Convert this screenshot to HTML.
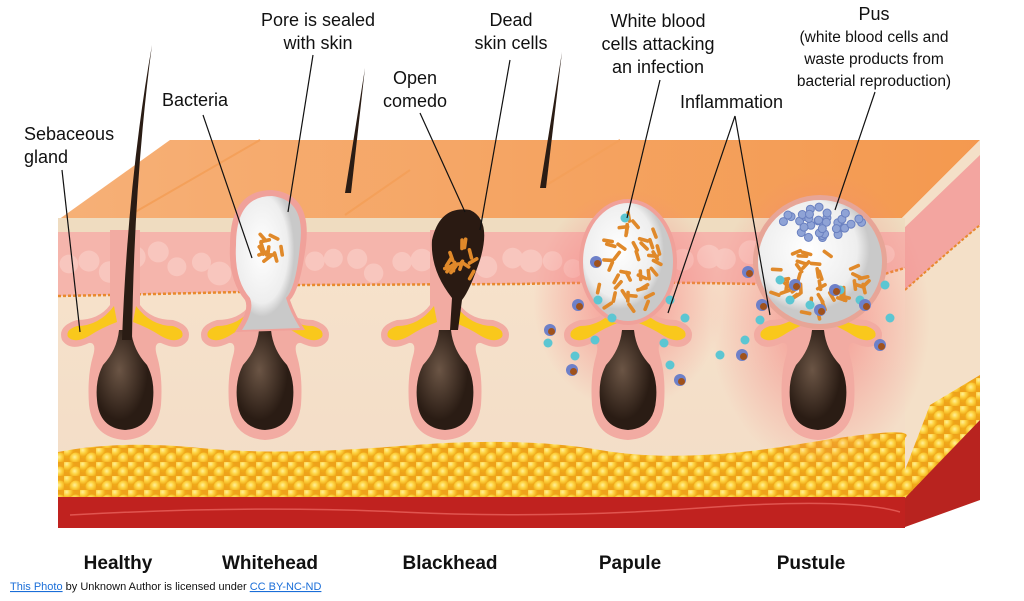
<!DOCTYPE html>
<html><head><meta charset="utf-8"><style>
html,body{margin:0;padding:0;background:#fff;}
svg{display:block}
text{font-family:"Liberation Sans",sans-serif;fill:#111}
</style></head><body>
<svg id="s" width="1024" height="601" viewBox="0 0 1024 601" xmlns="http://www.w3.org/2000/svg">
<defs>
<linearGradient id="top" x1="0" y1="0" x2="1" y2="0"><stop offset="0" stop-color="#f6b077"/><stop offset="1" stop-color="#f4994f"/></linearGradient>
<linearGradient id="derm" x1="0" y1="0" x2="0" y2="1"><stop offset="0" stop-color="#f7e3cc"/><stop offset="1" stop-color="#f2dcc6"/></linearGradient>
<radialGradient id="glow"><stop offset="0" stop-color="#f58080" stop-opacity=".8"/><stop offset="1" stop-color="#f58080" stop-opacity="0"/></radialGradient>
<radialGradient id="bulb" cx=".4" cy=".4"><stop offset="0" stop-color="#6b5545"/><stop offset="1" stop-color="#2a1c14"/></radialGradient>
<radialGradient id="wh" cx=".4" cy=".4"><stop offset="0" stop-color="#fff"/><stop offset=".8" stop-color="#eeeeee"/><stop offset="1" stop-color="#c9c9c9"/></radialGradient>
<radialGradient id="fc" cx=".4" cy=".35"><stop offset="0" stop-color="#fff09a"/><stop offset=".5" stop-color="#fdd240"/><stop offset="1" stop-color="#f0a818"/></radialGradient>
<pattern id="fat" width="16" height="14" patternUnits="userSpaceOnUse">
<rect width="16" height="14" fill="#eea21a"/>
<circle cx="4" cy="4" r="6.5" fill="url(#fc)"/><circle cx="12" cy="11" r="6.5" fill="url(#fc)"/>
</pattern>
</defs>
<polygon points="58,220 170,140 980,140 900,220" fill="url(#top)"/>
<line x1="130" y1="215" x2="260" y2="140" stroke="#f4a05a" stroke-width="2"/>
<line x1="345" y1="215" x2="410" y2="170" stroke="#f4a05a" stroke-width="2"/>
<line x1="545" y1="186" x2="620" y2="140" stroke="#f4a05a" stroke-width="2"/>
<polygon points="900,220 980,140 980,500 905,527" fill="#f4e0c8"/>
<path d="M900,232 L980,155 L980,225 Q950,250 905,290 Z" fill="#f3a5a0"/>
<path d="M905,290 Q950,250 980,225" stroke="#e8892d" stroke-width="2" fill="none" stroke-dasharray="3,2"/>
<path d="M905,470 L930,405 L980,375 L980,425 L905,500 Z" fill="url(#fat)"/>
<polygon points="905,498 980,420 980,500 905,527" fill="#b8231f"/>
<rect x="58" y="218" width="847" height="310" fill="url(#derm)"/>
<rect x="58" y="218" width="847" height="14" fill="#efdcc0"/>
<path d="M58,232 H905 V268 Q880,275 860,282 L820,285 L700,283 Q600,282 520,284 L300,285 Q250,285 240,292 L110,295 L58,296 Z" fill="#f5b5ac"/>
<path d="M58,296 L110,295 L240,292 Q250,285 300,285 L520,284 Q600,282 700,283 L820,285 L860,282 Q880,275 905,268" stroke="#e8892d" stroke-width="2.5" fill="none" stroke-dasharray="3,2"/>
<g id="cells" fill="#f9cbc3" opacity=".8"></g>
<path d="M58,452 Q120,440 200,448 T400,446 T600,450 T800,444 T905,438 V500 H58 Z" fill="url(#fat)"/>
<rect x="58" y="497" width="847" height="31" fill="#c0221f"/>
<path d="M70,515 Q250,505 400,512 T700,508 T900,512" stroke="#e05550" stroke-width="1.5" fill="none"/>
<ellipse cx="628" cy="300" rx="95" ry="110" fill="url(#glow)"/>
<ellipse cx="820" cy="320" rx="110" ry="150" fill="url(#glow)"/>
<g id="fol"></g>
<path d="M122,340 Q128,180 152,45 Q134,180 132,340 Z" fill="#2a1c14"/>
<path d="M345,193 L365,68 L351,193 Z" fill="#2a1c14"/>
<path d="M540,188 L562,52 L546,188 Z" fill="#2a1c14"/>
<path d="M230,245 Q230,190 272,190 Q312,194 306,245 Q300,290 290,300 Q295,315 305,330 L235,332 Q250,310 245,300 Q228,280 230,245 Z" fill="#f0a19a"/>
<path d="M236,245 Q236,196 272,196 Q306,200 300,245 Q296,288 286,298 Q290,312 300,328 L242,330 Q255,310 250,298 Q234,280 236,245 Z" fill="url(#wh)"/>
<path d="M432,240 Q440,205 470,210 Q492,220 480,260 Q470,290 462,300 L458,330 L450,330 L452,298 Q430,270 432,240 Z" fill="#2a1a12"/>
<ellipse cx="628" cy="262" rx="49" ry="63" fill="#f0a19a"/>
<ellipse cx="628" cy="262" rx="45" ry="59" fill="url(#wh)"/>
<circle cx="820" cy="262" r="67" fill="#e7a597"/>
<circle cx="820" cy="262" r="62" fill="url(#wh)"/>
<g id="bac"></g>
<g stroke="#111" stroke-width="1.2">
<line x1="62" y1="170" x2="80" y2="332"/>
<line x1="203" y1="115" x2="252" y2="258"/>
<line x1="313" y1="55" x2="288" y2="212"/>
<line x1="420" y1="113" x2="465" y2="212"/>
<line x1="510" y1="60" x2="480" y2="230"/>
<line x1="660" y1="80" x2="627" y2="218"/>
<line x1="735" y1="116" x2="668" y2="313"/>
<line x1="735" y1="116" x2="770" y2="315"/>
<line x1="875" y1="92" x2="835" y2="210"/>
</g>
<g font-size="18">
<text x="24" y="140">Sebaceous</text><text x="24" y="163">gland</text>
<text x="162" y="106">Bacteria</text>
<text x="318" y="26" text-anchor="middle">Pore is sealed</text><text x="318" y="49" text-anchor="middle">with skin</text>
<text x="415" y="84" text-anchor="middle">Open</text><text x="415" y="107" text-anchor="middle">comedo</text>
<text x="511" y="26" text-anchor="middle">Dead</text><text x="511" y="49" text-anchor="middle">skin cells</text>
<text x="658" y="27" text-anchor="middle">White blood</text><text x="658" y="50" text-anchor="middle">cells attacking</text><text x="658" y="73" text-anchor="middle">an infection</text>
<text x="874" y="20" text-anchor="middle">Pus</text>
<text x="680" y="108">Inflammation</text>
</g>
<g font-size="15.5" text-anchor="middle">
<text x="874" y="42">(white blood cells and</text><text x="874" y="64">waste products from</text><text x="874" y="86">bacterial reproduction)</text>
</g>
<g font-size="19" font-weight="bold" text-anchor="middle">
<text x="118" y="569">Healthy</text><text x="270" y="569">Whitehead</text><text x="450" y="569">Blackhead</text><text x="630" y="569">Papule</text><text x="811" y="569">Pustule</text>
</g>
<g font-size="11"><text x="10" y="590"><tspan fill="#1a6ed8" text-decoration="underline">This Photo</tspan> by Unknown Author is licensed under <tspan fill="#1a6ed8" text-decoration="underline">CC BY-NC-ND</tspan></text></g>
</svg>
<script>
var NS="http://www.w3.org/2000/svg";
function el(p,t,a){var e=document.createElementNS(NS,t);for(var k in a)e.setAttribute(k,a[k]);p.appendChild(e);return e;}
var seed=7;function r(){seed=(seed*9301+49297)%233280;return seed/233280;}
var cells=document.getElementById('cells');
for(var x=65;x<900;x+=22){el(cells,'circle',{cx:x+r()*8,cy:250+r()*25,r:9+r()*3});}
var fol=document.getElementById('fol');
[125,265,445,628,818].forEach(function(cx){
 var g=el(fol,'g',{transform:'translate('+cx+',0)'});
 el(g,'path',{d:'M-15,230 V305 Q-26,320 -48,320 Q-68,326 -63,340 Q-55,352 -36,343 Q-28,342 -32,356 Q-38,376 -36,405 Q-32,438 0,440 Q32,438 36,405 Q38,376 32,356 Q28,342 36,343 Q55,352 63,340 Q68,326 48,320 Q26,320 15,305 V230 Z',fill:'#f2aba2'});
 el(g,'path',{d:'M-11,306 Q-26,326 -48,326 Q-60,330 -57,337 Q-50,344 -36,336 Q-24,328 -8,322 Z',fill:'#f9c81c'});
 el(g,'path',{d:'M11,306 Q26,326 48,326 Q60,330 57,337 Q50,344 36,336 Q24,328 8,322 Z',fill:'#f9c81c'});
 el(g,'path',{d:'M-6,330 Q-8,350 -22,365 Q-30,380 -28,400 Q-26,428 0,430 Q26,428 28,400 Q30,380 22,365 Q8,350 6,330 Z',fill:'url(#bulb)'});
});
var bac=document.getElementById('bac');
function rods(cx,cy,rx,ry,n,col){for(var i=0;i<n;i++){var a=r()*6.28,d=Math.sqrt(r());var x=cx+Math.cos(a)*rx*d,y=cy+Math.sin(a)*ry*d,ang=r()*180;
 el(bac,'rect',{x:x-6,y:y-1.8,width:12,height:3.6,rx:1.8,fill:col||'#e0892a',transform:'rotate('+ang+' '+x+' '+y+')'});}}
rods(266,250,18,16,12);rods(462,262,14,20,14);rods(628,265,36,50,40);rods(820,285,50,38,40);
for(var i=0;i<35;i++){var a=r()*6.28,d=Math.sqrt(r());el(bac,'circle',{cx:820+Math.cos(a)*42*d,cy:222+Math.sin(a)*16*d,r:4,fill:'#8fa3d6',stroke:'#6a80c0'});}
var dots=[[625,218],[598,300],[612,318],[670,300],[685,318],[548,343],[575,356],[595,340],[664,343],[670,365],[790,300],[810,305],[840,290],[860,300],[780,280],[760,320],[885,285],[890,318],[720,355],[745,340]];
dots.forEach(function(p){el(bac,'circle',{cx:p[0],cy:p[1],r:4.5,fill:'#5cc6d2'});});
var wbc=[[596,262],[578,305],[550,330],[572,370],[680,380],[748,272],[762,305],[742,355],[795,285],[835,290],[865,305],[880,345],[820,310]];
wbc.forEach(function(p){el(bac,'circle',{cx:p[0],cy:p[1],r:6,fill:'#6e80c8'});el(bac,'circle',{cx:p[0]+1.5,cy:p[1]+1.5,r:3.5,fill:'#a0521c'});});
</script>
</body></html>
